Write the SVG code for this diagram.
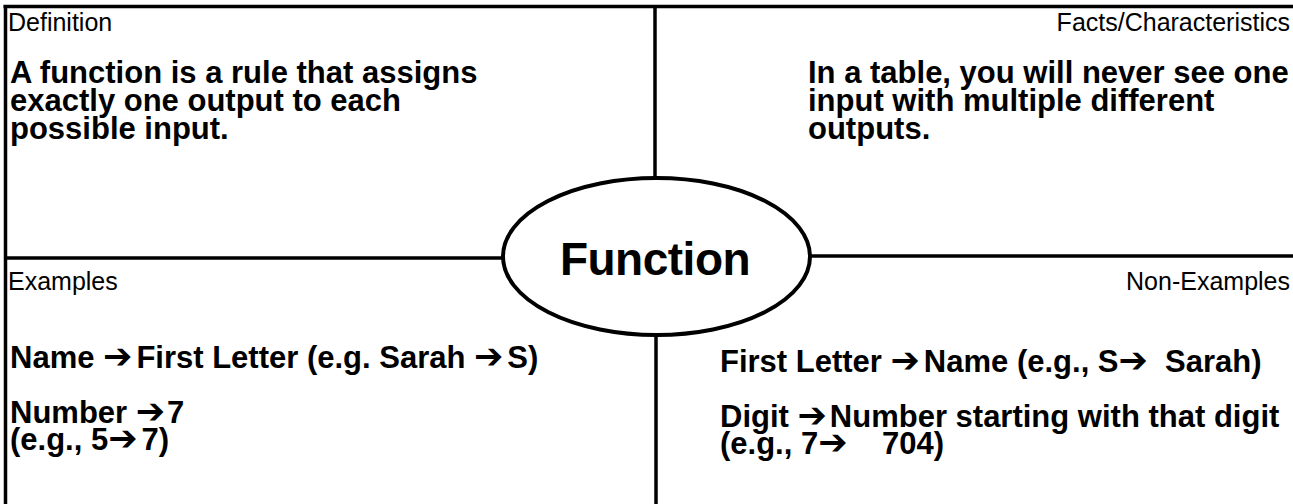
<svg xmlns="http://www.w3.org/2000/svg" width="1293" height="504" viewBox="0 0 1293 504">
<style>
.hdr{font-family:"Liberation Sans",Arial,sans-serif;font-size:25px;fill:#000}
.bd{font-family:"Liberation Sans",Arial,sans-serif;font-size:31px;font-weight:bold;fill:#000}
.ttl{font-family:"Liberation Sans",Arial,sans-serif;font-size:46px;font-weight:bold;fill:#000;letter-spacing:-0.5px}
.ar{font-family:"DejaVu Sans",sans-serif;font-weight:bold;font-size:35px}
.ln{stroke:#000;stroke-width:3.5;fill:none}
</style>
<rect width="1293" height="504" fill="#fff"/>
<g id="connectors">
<line class="ln" x1="3.5" y1="6.5" x2="1293" y2="6.5"/>
<line class="ln" x1="5.5" y1="5" x2="5.5" y2="504"/>
<line class="ln" x1="655" y1="6" x2="655" y2="178"/>
<line class="ln" x1="656" y1="335" x2="656" y2="504"/>
<line class="ln" x1="5" y1="258" x2="503" y2="258"/>
<line class="ln" x1="810" y1="256" x2="1293" y2="256"/>
</g>
<g id="definition">
<text class="hdr" x="8" y="31">Definition</text>
<text class="bd" x="10" y="83">A function is a rule that assigns</text>
<text class="bd" x="10" y="111">exactly one output to each</text>
<text class="bd" x="10" y="139">possible input.</text>
</g>
<g id="facts">
<text class="hdr" x="1290" y="31" text-anchor="end">Facts/Characteristics</text>
<text class="bd" x="808" y="83">In a table, you will never see one</text>
<text class="bd" x="808" y="111">input with multiple different</text>
<text class="bd" x="808" y="139">outputs.</text>
</g>
<g id="function">
<ellipse cx="656.5" cy="256.5" rx="153.5" ry="78.5" fill="#fff" stroke="#000" stroke-width="4"/>
<text class="ttl" x="655" y="275" text-anchor="middle">Function</text>
</g>
<g id="examples">
<text class="hdr" x="8" y="290">Examples</text>
<text class="bd" x="10" y="368">Name <tspan class="ar">➔</tspan><tspan dx="4">First Letter (e.g. Sarah </tspan><tspan class="ar">➔</tspan><tspan dx="4">S)</tspan></text>
<text class="bd" x="10" y="423">Number <tspan class="ar">➔</tspan><tspan dx="2">7</tspan></text>
<text class="bd" x="10" y="450">(e.g., 5<tspan class="ar">➔</tspan><tspan dx="4">7)</tspan></text>
</g>
<g id="non-examples">
<text class="hdr" x="1290" y="290" text-anchor="end">Non-Examples</text>
<text class="bd" x="720" y="372" xml:space="preserve">First Letter <tspan class="ar">➔</tspan><tspan dx="4">Name (e.g., S</tspan><tspan class="ar">➔</tspan>  Sarah)</text>
<text class="bd" x="720" y="427">Digit <tspan class="ar">➔</tspan><tspan dx="3">Number starting with that digit</tspan></text>
<text class="bd" x="720" y="454" xml:space="preserve">(e.g., 7<tspan class="ar">➔</tspan>    704)</text>
</g>
</svg>
